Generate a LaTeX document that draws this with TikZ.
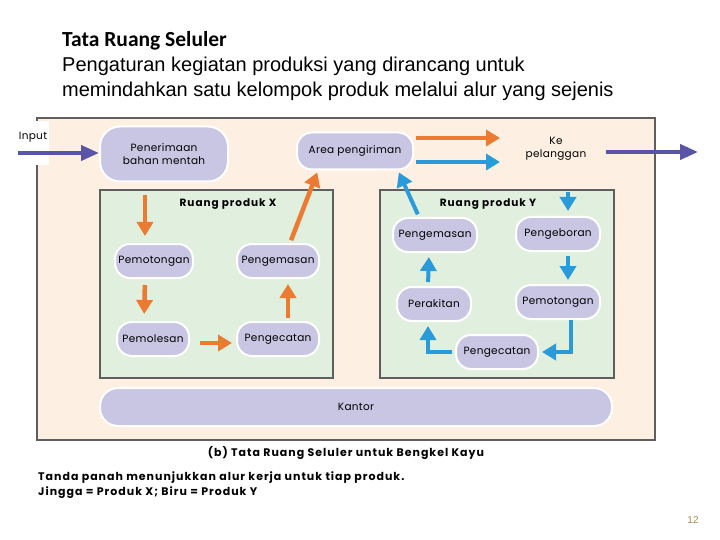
\documentclass[tikz,border=0pt]{standalone}
\usepackage{fontspec}
\setmainfont{Liberation Sans}
\newfontfamily\diagfont[LetterSpace=3]{Poppins}
\newfontfamily\capfont[LetterSpace=9]{Poppins}
\newfontfamily\headfont{Carlito}
\usetikzlibrary{positioning,arrows.meta}
\definecolor{RuangBeige}{HTML}{FDF0E2}
\definecolor{RuangGreen}{HTML}{E1EFDF}
\definecolor{RuangGrey}{HTML}{5F5F5F}
\definecolor{RuangLilac}{HTML}{C9C6E4}
\definecolor{RuangOrange}{HTML}{EC7A30}
\definecolor{RuangBlue}{HTML}{2A9BD8}
\definecolor{RuangPurple}{HTML}{5A54A6}
\definecolor{RuangPage}{HTML}{A8894F}

\begin{document}
\begin{tikzpicture}[x=1pt,y=-1pt,every node/.style={font=\diagfont\fontsize{10.5}{13}\selectfont}]

    \useasboundingbox[fill=white] (0,0) rectangle (720,540);

    \tikzstyle{station}=[
      draw=white,
      line width=2pt,
      fill=RuangLilac,
      rounded corners=15pt,
      align=center,
      minimum height=34pt,
      inner sep=2pt
    ]
    \tikzstyle{room}=[draw=RuangGrey, line width=1.2pt, fill=RuangGreen]
    \tikzstyle{flowX}=[-{Triangle[length=14pt,width=16pt]}, line width=4.5pt, color=RuangOrange]
    \tikzstyle{flowY}=[-{Triangle[length=14pt,width=16pt]}, line width=4pt, color=RuangBlue]
    \tikzstyle{flowIO}=[-{Triangle[length=18pt,width=15pt]}, line width=4pt, color=RuangPurple]

    % --- Heading ---
    \node[anchor=base west, inner sep=0pt, font=\headfont\bfseries\fontsize{21.5}{24}\selectfont] (judul) at (62,47) {Tata Ruang Seluler};
    \node[anchor=base west, inner sep=0pt, font=\fontsize{20}{24}\selectfont] (def1) at (62,72) {Pengaturan kegiatan produksi yang dirancang untuk};
    \node[anchor=base west, inner sep=0pt, font=\fontsize{20}{24}\selectfont] (def2) at (62,97) {memindahkan satu kelompok produk melalui alur yang sejenis};

    % --- Floor and rooms ---
    \node[draw=RuangGrey, fill=RuangBeige, line width=1.2pt, minimum width=618, minimum height=322] (lantai) at (346,279) {};
    \node[fill=white, inner sep=2pt, text height=16pt, text depth=24pt, anchor=north] (input) at (33,121) {Input};
    \node[room, minimum width=233, minimum height=188] (ruangX) at (216.5,284) {};
    \node[room, minimum width=234, minimum height=188] (ruangY) at (497,284) {};
    \node[font=\capfont\bfseries\fontsize{10.5}{13}\selectfont] (labelX) at (228,204) {Ruang produk X};
    \node[font=\capfont\bfseries\fontsize{10.5}{13}\selectfont] (labelY) at (488,204) {Ruang produk Y};

    % --- Top row ---
    \node[station, minimum width=128, minimum height=55, rounded corners=20pt] (terima) at (164,154) {Penerimaan\\ bahan mentah};
    \node[station, minimum width=116, minimum height=37] (kirim) at (355,151) {Area pengiriman};
    \node[align=center] (pelanggan) at (556,149) {Ke\\ pelanggan};

    % --- Product X stations ---
    \node[station, minimum width=78] (potongX) at (154,261) {Pemotongan};
    \node[station, minimum width=82] (kemasX) at (278,261) {Pengemasan};
    \node[station, minimum width=72] (polesX) at (153,339) {Pemolesan};
    \node[station, minimum width=82] (cetX) at (278,339) {Pengecatan};

    % --- Product Y stations ---
    \node[station, minimum width=84] (kemasY) at (435,235) {Pengemasan};
    \node[station, minimum width=84] (borY) at (558,234) {Pengeboran};
    \node[station, minimum width=74] (rakitY) at (434,304) {Perakitan};
    \node[station, minimum width=84] (potongY) at (558,302) {Pemotongan};
    \node[station, minimum width=82] (cetY) at (497,352) {Pengecatan};

    % --- Office ---
    \node[station, minimum width=512, minimum height=38, rounded corners=18pt] (kantor) at (356,407) {Kantor};

    % --- Free ends ---
    \coordinate (masuk) at (18,153);
    \coordinate (keluar) at (698,152);
    \coordinate (awalX) at (145,195);
    \coordinate (awalY) at (568,192);
    \coordinate (ujungX) at (500,138);
    \coordinate (ujungY) at (500,162);

    % --- Input and output ---
    \draw[flowIO] (masuk) -- (masuk -| terima.west);
    \draw[flowIO, shorten <=16pt] (pelanggan.east |- keluar) -- (keluar);

    % --- Product X arrows ---
    \draw[flowX, shorten >=7pt] (awalX) -- (awalX |- potongX.north);
    \draw[flowX, shorten <=6pt, shorten >=7pt] ([xshift=-9pt]potongX.south) -- ([xshift=-9pt]polesX.north);
    \draw[flowX, shorten <=10pt, shorten >=4pt] ([yshift=-4pt]polesX.east) -- ([yshift=-4pt]cetX.west);
    \draw[flowX, shorten <=3pt, shorten >=5pt] ([xshift=10pt]cetX.north) -- ([xshift=10pt]kemasX.south);
    \draw[flowX, shorten <=3pt, shorten >=2pt] ([xshift=12pt]kemasX.north) -- ([xshift=-37pt]kirim.south);
    \draw[flowX, shorten <=2pt] ([yshift=13pt]kirim.east) -- (ujungX);

    % --- Product Y arrows ---
    \draw[flowY, shorten >=5pt] (awalY) -- (awalY |- borY.north);
    \draw[flowY, shorten <=4pt, shorten >=4pt] ([xshift=10pt]borY.south) -- ([xshift=10pt]potongY.north);
    \draw[flowY, shorten >=3pt] ([xshift=13pt]potongY.south) |- (cetY.east);
    \draw[flowY, shorten <=3pt, shorten >=4pt] (cetY.west) -| ([xshift=-6pt]rakitY.south);
    \draw[flowY, shorten <=4pt, shorten >=4pt] ([xshift=-6pt]rakitY.north) -- ([xshift=-6pt]kemasY.south);
    \draw[flowY, shorten <=3pt, shorten >=2pt] ([xshift=-16pt]kemasY.north) -- ([xshift=43pt]kirim.south);
    \draw[flowY, shorten <=2pt] ([yshift=-11pt]kirim.east) -- (ujungY);

    % --- Captions ---
    \node[font=\capfont\bfseries\fontsize{11}{13}\selectfont] (judulB) at (346,453) {(b) Tata Ruang Seluler untuk Bengkel Kayu};
    \node[anchor=west, align=left, inner sep=0pt, font=\capfont\bfseries\fontsize{11}{15.5}\selectfont] (catatan) at (38,485) {Tanda panah menunjukkan alur kerja untuk tiap produk.\\ Jingga = Produk X; Biru = Produk Y};
    \node[font=\fontsize{10}{12}\selectfont, text=RuangPage] (halaman) at (693,520) {12};

  \end{tikzpicture}
\end{document}
